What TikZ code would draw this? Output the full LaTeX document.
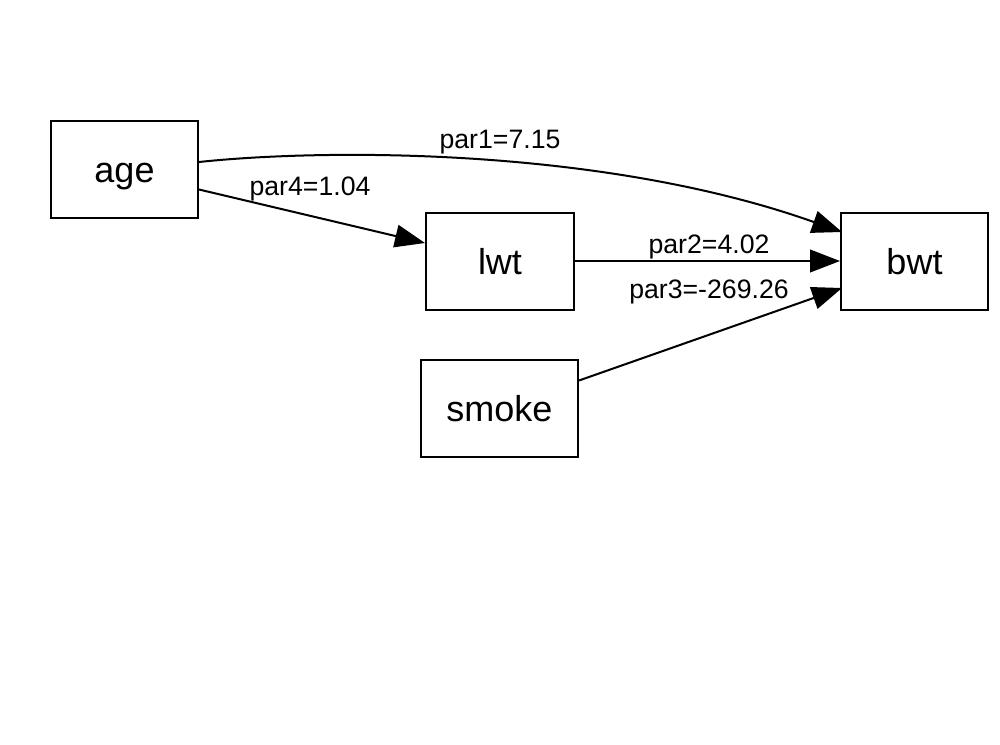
\documentclass[tikz,border=0pt]{standalone}
\usepackage{fontspec}
\setmainfont{Liberation Sans}
\usetikzlibrary{arrows.meta}
\begin{document}
\begin{tikzpicture}[x=0.75pt,y=-0.75pt,
  box/.style={draw,line width=1.5pt,inner sep=0pt,text height=19.5pt,text depth=0pt,
    font=\fontsize{27}{32}\selectfont,minimum height=97*0.75pt},
  lab/.style={font=\fontsize{20}{24}\selectfont,anchor=base,inner sep=0pt},
  conn/.style={line width=1.5pt,-{Triangle[length=22.5pt,width=17pt]}}]
\useasboundingbox (0,0) rectangle (1000,744);
\node[box,minimum width=147*0.75pt] (age) at (124.5,169.5) {age};
\node[box,minimum width=148*0.75pt] (lwt) at (500,261) {lwt};
\node[box,minimum width=147*0.75pt] (bwt) at (914.5,261) {bwt};
\node[box,minimum width=157*0.75pt] (smoke) at (499.5,408.5) {smoke};
\draw[conn] ([yshift=7.5*0.75pt]age.east) .. controls (320,149) and (600,146) .. ([yshift=21.75pt,xshift=1.5pt]bwt.west);
\draw[conn] ([yshift=-15pt]age.east) -- ([yshift=13.5pt]lwt.west);
\draw[conn] (lwt.east) -- (bwt.west);
\draw[conn] ([yshift=21pt]smoke.east) -- ([yshift=-20.25pt,xshift=1.5pt]bwt.west);
\node[lab] (l1) at (500,148) {par1=7.15};
\node[lab] (l4) at (310,195) {par4=1.04};
\node[lab] (l2) at (709,253) {par2=4.02};
\node[lab] (l3) at (709,298) {par3=-269.26};
\end{tikzpicture}
\end{document}
